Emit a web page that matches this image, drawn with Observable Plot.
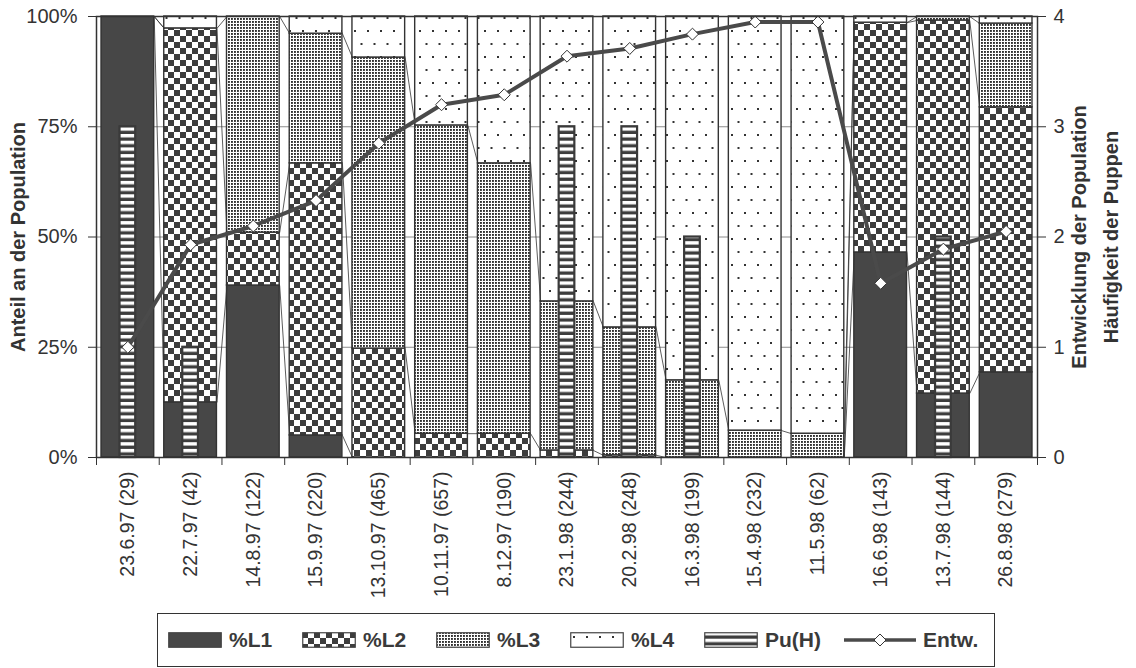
<!DOCTYPE html>
<html>
<head>
<meta charset="utf-8">
<script src="https://cdn.jsdelivr.net/npm/d3@7"></script>
<script src="https://cdn.jsdelivr.net/npm/@observablehq/plot@0.6"></script>
<style>
  body { margin: 0; background: #fff; font-family: "Liberation Sans", Arial, sans-serif; color: #333; }
  #chart svg { display: block; }
  .legend { position: absolute; left: 157px; top: 613px; width: 838px; height: 54px; box-sizing: border-box;
            border: 1.5px solid #333; font-weight: bold; font-size: 21px; color: #3a3a3a; }
  .legend .item { position: absolute; top: 0; height: 51px; display: flex; align-items: center; }
  .legend svg { display: block; margin-right: 7px; }
</style>
</head>
<body>
<!-- fill patterns shared by the plot and the legend -->
<svg width="0" height="0" style="position:absolute">
  <defs>
    <pattern id="pat-l2" patternUnits="userSpaceOnUse" width="12" height="12">
      <rect width="12" height="12" fill="#fff"/>
      <rect width="6" height="6" fill="#3d3d3d"/>
      <rect x="6" y="6" width="6" height="6" fill="#3d3d3d"/>
    </pattern>
    <pattern id="pat-l3" patternUnits="userSpaceOnUse" width="3" height="3">
      <rect width="3" height="3" fill="#fff"/>
      <rect width="1.9" height="1.9" fill="#2e2e2e"/>
    </pattern>
    <pattern id="pat-l4" patternUnits="userSpaceOnUse" width="13" height="26">
      <rect width="13" height="26" fill="#fff"/>
      <rect x="3" y="4" width="2" height="2" fill="#333"/>
      <rect x="9.5" y="17" width="2" height="2" fill="#333"/>
    </pattern>
    <pattern id="pat-pu" patternUnits="userSpaceOnUse" width="20" height="6.7">
      <rect width="20" height="6.7" fill="#3d3d3d"/>
      <rect width="20" height="3.4" fill="#fff"/>
    </pattern>
  </defs>
</svg>
<div id="chart"></div>
<div class="legend" id="legend"></div>
<script>
// Sampling dates with number of larvae examined
const dates = ["23.6.97 (29)", "22.7.97 (42)", "14.8.97 (122)", "15.9.97 (220)", "13.10.97 (465)",
               "10.11.97 (657)", "8.12.97 (190)", "23.1.98 (244)", "20.2.98 (248)", "16.3.98 (199)",
               "15.4.98 (232)", "11.5.98 (62)", "16.6.98 (143)", "13.7.98 (144)", "26.8.98 (279)"];

// Share of the larval stages in the population (%)
const pctL1 = [100, 12.5, 39.0, 5.0, 0, 0, 0, 0, 0, 0, 0, 0, 46.5, 14.5, 19.3];
const pctL2 = [0, 84.8, 12.0, 61.7, 24.7, 5.4, 5.4, 1.6, 0.5, 0, 0, 0, 52.1, 84.6, 60.1];
const pctL3 = [0, 0, 49.0, 29.4, 66.0, 69.9, 61.3, 33.8, 29.0, 17.5, 6.1, 5.4, 0, 0.9, 19.0];
const pctL4 = [0, 2.7, 0, 3.9, 9.3, 24.7, 33.3, 64.6, 70.5, 82.5, 93.9, 94.6, 1.4, 0, 1.6];

// Frequency of pupae and population development index (right axis, 0–4)
const puppen = [3, 1, 0, 0, 0, 0, 0, 3, 3, 2, 0, 0, 0, 2, 0];
const entw   = [1.00, 1.93, 2.10, 2.33, 2.85, 3.20, 3.29, 3.64, 3.71, 3.84, 3.95, 3.95, 1.58, 1.89, 2.05];

const leftTicks  = [0, 25, 50, 75, 100];
const rightTicks = [0, 1, 2, 3, 4];
const rightMax = 4;

const n = dates.length;
const idx = d3.range(n);
const toPct = v => v * 100 / rightMax;   // right axis value -> left axis position

const series = [
  {key: "L1", values: pctL1, fill: "#474747"},
  {key: "L2", values: pctL2, fill: "url(#pat-l2)"},
  {key: "L3", values: pctL3, fill: "url(#pat-l3)"},
  {key: "L4", values: pctL4, fill: "url(#pat-l4)"}
];

// stacked segments per date
const segs = [];
const tops = series.map(() => []);
idx.forEach(i => {
  let y0 = 0;
  series.forEach((s, k) => {
    const v = s.values[i];
    segs.push({i, key: s.key, y1: y0, y2: y0 + v});
    y0 += v;
    tops[k][i] = y0;
  });
});

const half = 0.42;      // half width of the stacked bars (in category units)
const puHalf = 0.125;   // half width of the pupae bars

// thin series lines joining the segment tops of neighbouring bars
const seriesLinks = [];
for (let k = 0; k < series.length - 1; k++) {
  for (let i = 0; i < n - 1; i++) {
    seriesLinks.push({xa: i + half, xb: i + 1 - half, ya: tops[k][i], yb: tops[k][i + 1]});
  }
}

const titleStyle = {text: d => d, rotate: -90, textAnchor: "middle", lineAnchor: "middle",
                    fontSize: 20, fontWeight: "bold", fill: "#333"};

const chart = Plot.plot({
  width: 1136,
  height: 610,
  marginLeft: 96,
  marginRight: 99,
  marginTop: 16,
  marginBottom: 153,
  style: {fontFamily: "'Liberation Sans', Arial, sans-serif", fontSize: "20px", color: "#333", background: "#fff"},
  x: {type: "linear", domain: [-0.5, n - 0.5]},
  y: {domain: [0, 100]},
  marks: [
    Plot.ruleY(leftTicks.filter(t => t > 0 && t < 100), {stroke: "#8c8c8c", strokeWidth: 1}),
    ...series.map(s => Plot.rect(segs.filter(d => d.key === s.key && d.y2 > d.y1), {
      x1: d => d.i - half, x2: d => d.i + half, y1: "y1", y2: "y2",
      fill: s.fill, stroke: "#333", strokeWidth: 1.4
    })),
    Plot.link(seriesLinks, {x1: "xa", x2: "xb", y1: "ya", y2: "yb", stroke: "#333", strokeWidth: 0.8}),
    Plot.rect(idx.filter(i => puppen[i] > 0), {
      x1: i => i - puHalf, x2: i => i + puHalf, y1: () => 0, y2: i => toPct(puppen[i]),
      fill: "url(#pat-pu)", stroke: "#3a3a3a", strokeWidth: 2.2
    }),
    Plot.line(idx, {x: i => i, y: i => toPct(entw[i]), stroke: "#4a4a4a", strokeWidth: 4}),
    Plot.dot(idx, {x: i => i, y: i => toPct(entw[i]), symbol: "diamond2", r: 5.4,
                   fill: "#fff", stroke: "#333", strokeWidth: 1}),
    Plot.frame({stroke: "#333", strokeWidth: 1.5}),
    Plot.axisY({anchor: "left", ticks: leftTicks, tickFormat: d => d + "%", tickSize: 8, tickPadding: 11, label: null}),
    Plot.axisY({anchor: "right", ticks: rightTicks.map(toPct), tickFormat: d => String(d * rightMax / 100),
                tickSize: 8, tickPadding: 8, label: null}),
    Plot.axisX({ticks: idx, tickFormat: i => dates[i], tickRotate: -90, tickSize: 0, tickPadding: 14,
                fontSize: 19.5, label: null}),
    Plot.axisX({ticks: d3.range(n + 1).map(i => i - 0.5), tickFormat: () => "", tickSize: 8, label: null}),
    Plot.text(["Anteil an der Population"], {...titleStyle, frameAnchor: "left", dx: -78}),
    Plot.text(["Entwicklung der Population"], {...titleStyle, frameAnchor: "right", dx: 42}),
    Plot.text(["Häufigkeit der Puppen"], {...titleStyle, frameAnchor: "right", dx: 74})
  ]
});
document.getElementById("chart").append(chart);

// legend below the chart
const legendItems = [
  {label: "%L1", fill: "#474747", left: 10},
  {label: "%L2", fill: "url(#pat-l2)", left: 144},
  {label: "%L3", fill: "url(#pat-l3)", left: 278},
  {label: "%L4", fill: "url(#pat-l4)", left: 412},
  {label: "Pu(H)", fill: "url(#pat-pu)", left: 546},
  {label: "Entw.", line: true, left: 686}
];
const legend = d3.select("#legend");
legendItems.forEach(it => {
  const item = legend.append("div").attr("class", "item").style("left", it.left + "px");
  if (it.line) {
    const s = item.append("svg").attr("width", 72).attr("height", 20);
    s.append("line").attr("x1", 0).attr("x2", 72).attr("y1", 10).attr("y2", 10)
      .attr("stroke", "#4a4a4a").attr("stroke-width", 3.5);
    s.append("path").attr("d", "M36,4L42,10L36,16L30,10Z").attr("fill", "#fff").attr("stroke", "#333");
  } else {
    const s = item.append("svg").attr("width", 54).attr("height", 16);
    s.append("rect").attr("x", 0.75).attr("y", 0.75).attr("width", 52.5).attr("height", 14.5)
      .attr("fill", it.fill).attr("stroke", "#444").attr("stroke-width", 1.2);
  }
  item.append("span").text(it.label);
});
</script>
</body>
</html>
